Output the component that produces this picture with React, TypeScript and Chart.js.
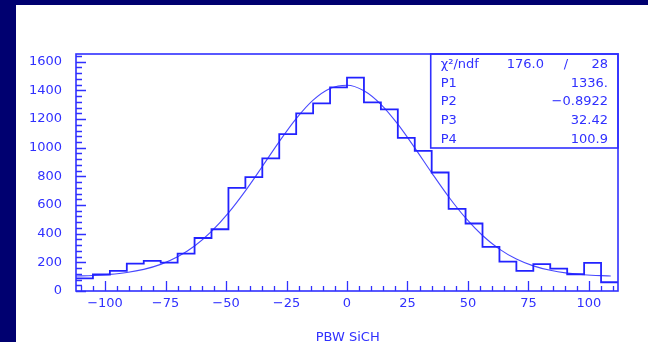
import React, { useEffect, useRef } from "react";
import { Chart, registerables } from "chart.js";

Chart.register(...registerables);

// Histogram bin edges (PBW SiCH) and bin contents
const binEdges = [
  -112, -105, -98, -91, -84, -77, -70, -63, -56, -49, -42, -35, -28, -21, -14, -7,
  0, 7, 14, 21, 28, 35, 42, 49, 56, 63, 70, 77, 84, 91, 98, 105, 112,
];
const binCounts = [
  88, 115, 140, 191, 210, 198, 261, 370, 431, 720, 795, 925, 1095, 1240, 1310, 1421,
  1489, 1316, 1267, 1069, 978, 827, 573, 471, 308, 205, 140, 187, 156, 117, 196, 61,
];

// Fit curve
const fitX = [
  -112, -105, -98, -91, -84, -77, -70, -63, -56, -49, -42, -35, -28, -21, -14, -7,
  0, 7, 14, 21, 28, 35, 42, 49, 56, 63, 70, 77, 84, 91, 98, 105, 109,
];
const fitY = [
  104.7, 108.6, 116.0, 129.0, 150.9, 185.8, 238.7, 314.1, 416.0, 545.2, 698.9, 869.1,
  1042.7, 1203.1, 1332.0, 1413.4, 1436.4, 1397.9, 1303.1, 1164.5, 999.0, 824.8, 657.7,
  509.7, 387.4, 292.5, 223.2, 175.4, 144.3, 125.0, 113.6, 107.3, 105.2,
];

// Stat box
const statLabels = ["P1", "P2", "P3", "P4"];
const statValues = ["1336.", "\u22120.8922", "32.42", "100.9"];
const chi2Value = "176.0";
const ndfValue = "28";

const xTitle = "PBW SiCH";
const xRange = [-112, 112];
const yRange = [0, 1654];

const BLUE = "#3030ff";
const FONT = "13px 'DejaVu Sans'";

const fmt = (v: number) => (v < 0 ? "\u2212" + Math.abs(v) : String(v));

export default function App() {
  const ref = useRef<HTMLCanvasElement | null>(null);

  useEffect(() => {
    const canvas = ref.current!;
    const histData = binEdges.map((e, i) => ({
      x: e,
      y: i < binCounts.length ? binCounts[i] : binCounts[binCounts.length - 1],
    }));
    const fitData = fitX.map((x, i) => ({ x, y: fitY[i] }));

    const decor = {
      id: "pawDecor",
      afterDraw(chart: any) {
        const ctx = chart.ctx;
        const xs = chart.scales.x;
        const ys = chart.scales.y;
        const a = chart.chartArea;
        ctx.save();
        ctx.strokeStyle = BLUE;
        ctx.lineWidth = 1.6;
        ctx.strokeRect(a.left, a.top, a.right - a.left, a.bottom - a.top);
        ctx.lineWidth = 1.3;
        ctx.beginPath();
        for (let v = -110; v <= 110; v += 5) {
          const px = Math.round(xs.getPixelForValue(v)) + 0.5;
          const len = v % 25 === 0 ? 10 : 5;
          ctx.moveTo(px, a.bottom);
          ctx.lineTo(px, a.bottom - len);
        }
        for (let v = 0; v <= 1640; v += 40) {
          const py = Math.round(ys.getPixelForValue(v)) + 0.5;
          const len = v % 200 === 0 ? 10 : 6;
          ctx.moveTo(a.left, py);
          ctx.lineTo(a.left + len, py);
        }
        ctx.stroke();

        // stat box
        const bx = xs.getPixelForValue(34.6);
        const by2 = a.top + 94;
        ctx.lineWidth = 1.6;
        ctx.strokeRect(bx, a.top, a.right - bx, by2 - a.top);
        ctx.fillStyle = BLUE;
        ctx.font = FONT;
        ctx.textBaseline = "middle";
        const tx = bx + 10;
        const rx = a.right - 10;
        const rowY = [a.top + 11, a.top + 29.5, a.top + 48, a.top + 67, a.top + 85.5];
        ctx.textAlign = "left";
        ctx.fillText("\u03c7\u00b2/ndf", tx, rowY[0]);
        ctx.textAlign = "right";
        ctx.fillText(chi2Value, rx - 64, rowY[0]);
        ctx.textAlign = "center";
        ctx.fillText("/", rx - 42, rowY[0]);
        ctx.textAlign = "right";
        ctx.fillText(ndfValue, rx, rowY[0]);
        statLabels.forEach((l, i) => {
          ctx.textAlign = "left";
          ctx.fillText(l, tx, rowY[i + 1]);
          ctx.textAlign = "right";
          ctx.fillText(statValues[i], rx, rowY[i + 1]);
        });

        // x title
        ctx.textAlign = "center";
        ctx.fillText(xTitle, xs.getPixelForValue(0.3), a.bottom + 47);
        ctx.restore();
      },
    };

    const chart = new Chart(canvas, {
      type: "line",
      data: {
        datasets: [
          {
            data: histData,
            stepped: true,
            borderColor: "#2222ff",
            borderWidth: 1.8,
            pointRadius: 0,
            fill: false,
          },
          {
            data: fitData,
            cubicInterpolationMode: "monotone",
            borderColor: "#4848ff",
            borderWidth: 1.1,
            pointRadius: 0,
            fill: false,
          },
        ],
      },
      options: {
        responsive: false,
        animation: false,
        devicePixelRatio: 1,
        layout: { padding: { left: 0, top: 49, right: 30, bottom: 0 } },
        plugins: { legend: { display: false }, tooltip: { enabled: false } },
        scales: {
          x: {
            type: "linear",
            min: xRange[0],
            max: xRange[1],
            grid: { display: false, drawTicks: false },
            border: { display: false },
            ticks: {
              stepSize: 25,
              includeBounds: false,
              padding: 5,
              color: BLUE,
              font: { family: "'DejaVu Sans'", size: 13 },
              maxRotation: 0,
              callback: (v: any) => fmt(Number(v)),
            },
            afterFit: (s: any) => {
              s.height = 51;
            },
          },
          y: {
            type: "linear",
            min: yRange[0],
            max: yRange[1],
            grid: { display: false, drawTicks: false },
            border: { display: false },
            ticks: {
              stepSize: 200,
              includeBounds: false,
              padding: 14,
              color: BLUE,
              font: { family: "'DejaVu Sans'", size: 13 },
              callback: (v: any) => fmt(Number(v)),
            },
            afterFit: (s: any) => {
              s.width = 60;
            },
          },
        },
      },
      plugins: [decor],
    } as any);
    return () => chart.destroy();
  }, []);

  return (
    <div
      style={{
        position: "fixed",
        left: 0,
        top: 0,
        width: 648,
        height: 342,
        background: "#000070",
      }}
    >
      <div
        style={{
          position: "absolute",
          left: 16,
          top: 5,
          width: 632,
          height: 337,
          background: "#ffffff",
        }}
      >
        <canvas ref={ref} width={632} height={337} style={{ display: "block", width: 632, height: 337 }} />
      </div>
    </div>
  );
}
